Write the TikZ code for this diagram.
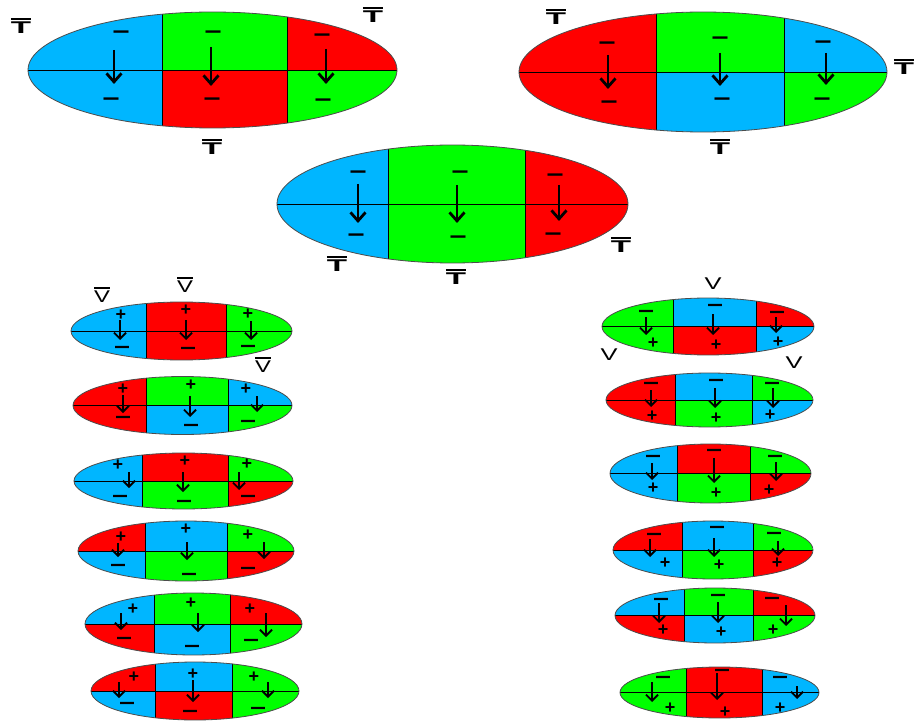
\documentclass[tikz,border=0pt]{standalone}
\usepackage{fontspec}
\usepackage{graphicx}
\setmainfont{Liberation Sans}
\usetikzlibrary{arrows.meta}
\definecolor{cb}{RGB}{0,182,255}
\definecolor{cg}{RGB}{0,255,0}
\definecolor{cr}{RGB}{255,0,0}
\newcounter{sgn}
\newcommand\setell[6]{\def\ecx{#1}\def\ecy{#2}\def\erx{#3}\def\ery{#4}\def\exa{#5}\def\exb{#6}}
\newcommand\fillell[6]{%
\begin{scope}
\clip (\ecx,\ecy) ellipse [x radius=\erx pt, y radius=\ery pt];
\fill[#1] (\ecx-\erx,\ecy-\ery) rectangle (\exa,\ecy);
\fill[#2] (\exa,\ecy-\ery) rectangle (\exb,\ecy);
\fill[#3] (\exb,\ecy-\ery) rectangle (\ecx+\erx,\ecy);
\fill[#4] (\ecx-\erx,\ecy) rectangle (\exa,\ecy+\ery);
\fill[#5] (\exa,\ecy) rectangle (\exb,\ecy+\ery);
\fill[#6] (\exb,\ecy) rectangle (\ecx+\erx,\ecy+\ery);
\draw[divl] (\ecx-\erx,\ecy) -- (\ecx+\erx,\ecy);
\draw[divl] (\exa,\ecy-\ery) -- (\exa,\ecy+\ery);
\draw[divl] (\exb,\ecy-\ery) -- (\exb,\ecy+\ery);
\end{scope}
\draw[outl] (\ecx,\ecy) ellipse [x radius=\erx pt, y radius=\ery pt];
}
\newcommand\pl[2]{\stepcounter{sgn}\node[sgp] (s\arabic{sgn}) at (#1,#2) {+};}
\newcommand\mi[2]{\stepcounter{sgn}\node[sgm] (s\arabic{sgn}) at (#1,#2) {\scalebox{1}[1.6]{—}};}
\newcommand\bmi[2]{\stepcounter{sgn}\node[bsgm] (s\arabic{sgn}) at (#1,#2) {\scalebox{1}[1.6]{—}};}
\newcommand\arr[4][sarr]{\draw[#1] (#2,#3) -- (#2,#4);}
\newcommand\Tbar{\scalebox{1.95}[1]{\vbox{\hrule height 1.8pt\kern1.8pt\hbox{\bfseries T}}}}
\newcommand\Vbar{\scalebox{1.4}[1]{\vbox{\hrule height 1.5pt\kern2pt\hbox{V}}}}
\newcommand\Vpl{\scalebox{1.5}[1]{V}}
\newcommand\lab[3]{\stepcounter{sgn}\node[labst] (l\arabic{sgn}) at (#1,#2) {#3};}
\begin{document}
\begin{tikzpicture}[x=1pt,y=-1pt,
  outl/.style={draw=black!70,line width=0.8pt},
  divl/.style={draw=black,line width=0.9pt},
  sgp/.style={font=\fontsize{18}{18}\selectfont\bfseries,inner sep=0pt,anchor=base,yshift=-6pt},
  sgm/.style={font=\fontsize{14}{14}\selectfont\bfseries,inner sep=0pt,anchor=base,yshift=-6pt},
  bsgm/.style={font=\fontsize{15}{15}\selectfont\bfseries,inner sep=0pt,anchor=base,yshift=-6.5pt},
  sarr/.style={line width=1.9pt,-{Straight Barb[length=6pt,width=12pt]}},
  barr/.style={line width=2.8pt,-{Straight Barb[length=8.5pt,width=15pt]}},
  labst/.style={font=\fontsize{17}{17}\selectfont,inner sep=0pt}]
\useasboundingbox (0,0) rectangle (916,722);
\fill[white] (0,0) rectangle (916,722);
% ---- top-left
\setell{212.5}{70}{184.5}{58}{162}{287}
\fillell{cb}{cg}{cr}{cb}{cr}{cg}
\arr[barr]{114}{50}{84}\arr[barr]{211}{47}{86}\arr[barr]{326}{49}{84}
\bmi{121}{32}\bmi{213}{32}\bmi{322}{35}\bmi{111}{99}\bmi{212}{99}\bmi{323}{100}
\lab{21}{26}{\Tbar}\lab{373}{15}{\Tbar}\lab{212}{147}{\Tbar}
% ---- top-right
\setell{703}{72}{184}{60}{656}{784}
\fillell{cr}{cg}{cb}{cr}{cb}{cg}
\arr[barr]{608}{55}{89}\arr[barr]{720}{53}{86}\arr[barr]{826}{53}{85}
\bmi{607}{43}\bmi{609}{102}\bmi{720}{38}\bmi{722}{99}\bmi{823}{42}\bmi{822}{99}
\lab{556}{17}{\Tbar}\lab{904}{67}{\Tbar}\lab{720}{147}{\Tbar}
% ---- center
\setell{452.5}{204}{175.5}{59}{388}{525}
\fillell{cb}{cg}{cr}{cb}{cg}{cr}
\arr[barr]{358}{184}{223}\arr[barr]{457}{185}{223}\arr[barr]{559}{185}{221}
\bmi{358}{172}\bmi{356}{235}\bmi{460}{172}\bmi{458}{237}\bmi{555}{175}\bmi{553}{234}
\lab{337}{264}{\Tbar}\lab{456}{277}{\Tbar}\lab{621}{245}{\Tbar}
% ---- left column
\setell{181.5}{331}{110.5}{29}{146}{226}
\fillell{cb}{cr}{cg}{cb}{cr}{cg}
\arr{120}{320}{340}\arr{186}{320}{340}\arr{251}{321}{340}
\pl{121}{314}\pl{186}{310}\pl{248}{313}\mi{122}{347}\mi{188}{348}\mi{248}{346}
\lab{102}{295}{\Vbar}\lab{185}{285}{\Vbar}\lab{263}{365}{\Vbar}
%
\setell{182.5}{405.5}{109.5}{29}{146}{228}
\fillell{cr}{cg}{cb}{cr}{cb}{cg}
\arr{123}{395}{413}\arr{190}{396}{417}\arr{257}{396}{412}
\pl{123}{388}\pl{191}{384}\pl{246}{388}\mi{123}{417}\mi{191}{425}\mi{248}{421}
%
\setell{183.5}{481}{109.5}{28}{142}{228}
\fillell{cb}{cr}{cg}{cb}{cg}{cr}
\arr{129}{472}{488}\arr{183}{472}{492}\arr{239}{472}{490}
\pl{118}{464}\pl{185}{460}\pl{247}{463}\mi{120}{496}\mi{184}{501}\mi{248}{496}
%
\setell{186}{551}{108}{30}{145}{227}
\fillell{cr}{cb}{cg}{cb}{cg}{cr}
\arr{118}{543}{557}\arr{187}{542}{560}\arr{264}{542}{559}
\pl{121}{536}\pl{186}{528}\pl{248}{534}\mi{118}{565}\mi{189}{574}\mi{248}{568}
%
\setell{193.5}{624}{108.5}{31}{154}{230}
\fillell{cb}{cg}{cr}{cr}{cb}{cg}
\arr{121}{613}{630}\arr{198}{613}{632}\arr{266}{613}{637}
\pl{133}{608}\pl{191}{602}\pl{250}{608}\mi{124}{638}\mi{192}{646}\mi{251}{640}
%
\setell{195}{691}{104}{29}{155}{232}
\fillell{cr}{cb}{cg}{cb}{cr}{cg}
\arr{119}{682}{698}\arr{193}{680}{702}\arr{268}{682}{698}
\pl{134}{676}\pl{193}{673}\pl{254}{676}\mi{127}{703}\mi{190}{711}\mi{258}{708}
% ---- right column
\setell{708}{326.5}{106}{28.5}{673}{756}
\fillell{cg}{cb}{cr}{cg}{cr}{cb}
\arr{646}{317}{335}\arr{713}{314}{335}\arr{776}{317}{333}
\mi{646}{311}\mi{715}{305}\mi{777}{312}\pl{653}{342}\pl{716}{344}\pl{778}{341}
\lab{713}{284}{\Vpl}\lab{609}{355}{\Vpl}\lab{794}{363}{\Vpl}
%
\setell{709.5}{400}{103.5}{27}{675}{752}
\fillell{cr}{cb}{cg}{cr}{cg}{cb}
\arr{651}{390}{407}\arr{715}{388}{408}\arr{773}{388}{408}
\mi{651}{383}\mi{716}{380}\mi{772}{383}\pl{652}{415}\pl{716}{417}\pl{770}{414}
%
\setell{710.5}{473.5}{100.5}{29.5}{677}{750}
\fillell{cb}{cr}{cg}{cb}{cg}{cr}
\arr{652}{463}{480}\arr{714}{458}{483}\arr{776}{462}{481}
\mi{653}{456}\mi{714}{450}\mi{775}{456}\pl{653}{487}\pl{716}{492}\pl{769}{489}
%
\setell{713}{550}{100}{29}{682}{753}
\fillell{cr}{cb}{cg}{cb}{cg}{cr}
\arr{650}{539}{557}\arr{714}{538}{557}\arr{778}{541}{556}
\mi{654}{534}\mi{717}{527}\mi{774}{533}\pl{665}{562}\pl{719}{564}\pl{777}{562}
%
\setell{715}{615.5}{100}{27.5}{684}{753}
\fillell{cb}{cg}{cr}{cr}{cb}{cg}
\arr{659}{603}{623}\arr{718}{602}{623}\arr{786}{605}{626}
\mi{661}{599}\mi{718}{595}\mi{772}{598}\pl{663}{629}\pl{721}{631}\pl{773}{629}
%
\setell{719.5}{692.5}{99.5}{25.5}{686}{762}
\fillell{cg}{cr}{cb}{cg}{cr}{cb}
\arr{652}{682}{702}\arr{717}{673}{700}\arr{797}{686}{699}
\mi{663}{677}\mi{722}{670}\mi{780}{677}\pl{670}{707}\pl{725}{711}\pl{780}{707}
\end{tikzpicture}
\end{document}
